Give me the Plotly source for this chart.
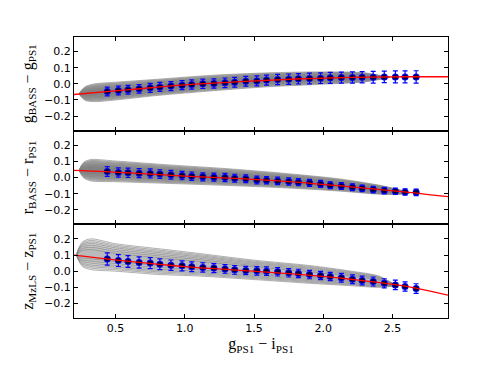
import plotly.graph_objects as go
from plotly.subplots import make_subplots

# binned colour points (same x bins in all panels)
x_bins = [0.44, 0.52, 0.59, 0.67, 0.75, 0.82, 0.90, 0.98, 1.05, 1.13,
          1.21, 1.29, 1.36, 1.44, 1.52, 1.59, 1.67, 1.75, 1.82, 1.90,
          1.98, 2.05, 2.13, 2.21, 2.28, 2.36, 2.44, 2.52, 2.59, 2.67]

g_diff = [-0.047, -0.041, -0.037, -0.031, -0.025, -0.019, -0.014, -0.008, -0.004, 0.000,
          0.002, 0.006, 0.010, 0.016, 0.018, 0.023, 0.027, 0.029, 0.031, 0.033,
          0.035, 0.037, 0.039, 0.039, 0.041, 0.041, 0.043, 0.043, 0.043, 0.043]
g_err = [0.027, 0.027, 0.027, 0.027, 0.028, 0.028, 0.028, 0.028, 0.029, 0.029,
         0.029, 0.030, 0.030, 0.030, 0.031, 0.031, 0.032, 0.032, 0.032, 0.033,
         0.033, 0.034, 0.034, 0.035, 0.035, 0.036, 0.036, 0.037, 0.037, 0.038]

r_diff = [0.037, 0.031, 0.029, 0.027, 0.025, 0.021, 0.017, 0.012, 0.008, 0.004,
          0.002, 0.000, -0.004, -0.008, -0.015, -0.017, -0.021, -0.025, -0.029, -0.033,
          -0.040, -0.048, -0.052, -0.060, -0.067, -0.075, -0.081, -0.085, -0.090, -0.092]
r_err = [0.030, 0.029, 0.029, 0.028, 0.028, 0.027, 0.027, 0.026, 0.026, 0.025,
         0.025, 0.025, 0.024, 0.024, 0.024, 0.023, 0.023, 0.023, 0.022, 0.022,
         0.022, 0.021, 0.021, 0.021, 0.020, 0.020, 0.020, 0.020, 0.020, 0.020]

z_diff = [0.075, 0.066, 0.060, 0.054, 0.050, 0.043, 0.037, 0.033, 0.027, 0.023,
          0.019, 0.014, 0.008, 0.004, 0.002, 0.000, -0.004, -0.010, -0.014, -0.021,
          -0.027, -0.033, -0.041, -0.050, -0.058, -0.064, -0.075, -0.085, -0.095, -0.108]
z_err = [0.038, 0.037, 0.036, 0.035, 0.034, 0.033, 0.032, 0.031, 0.030, 0.029,
         0.028, 0.027, 0.027, 0.026, 0.026, 0.026, 0.026, 0.026, 0.026, 0.026,
         0.026, 0.026, 0.027, 0.027, 0.027, 0.028, 0.028, 0.029, 0.029, 0.030]

# fitted relations (red curves)
fit_x = [0.2, 0.6, 1.0, 1.4, 1.8, 2.2, 2.6, 2.9]
g_fit = [-0.066, -0.036, -0.007, 0.014, 0.030, 0.040, 0.044, 0.044]
r_fit = [0.044, 0.029, 0.009, -0.007, -0.028, -0.058, -0.090, -0.119]
z_fit = [0.099, 0.060, 0.028, 0.005, -0.018, -0.050, -0.094, -0.149]

# outer density contour: knots, centre line, half width
g_cx = [0.24, 0.28, 0.35, 0.5, 0.8, 1.2, 1.6, 2.0, 2.3, 2.48]
g_cmid = [-0.062, -0.060, -0.055, -0.045, -0.022, 0.005, 0.025, 0.036, 0.040, 0.040]
g_chalf = [0.0, 0.042, 0.055, 0.055, 0.050, 0.048, 0.043, 0.038, 0.028, 0.0]

r_cx = [0.24, 0.27, 0.32, 0.5, 0.9, 1.3, 1.7, 2.1, 2.4, 2.55, 2.62]
r_cmid = [0.045, 0.046, 0.045, 0.038, 0.020, 0.003, -0.018, -0.045, -0.075, -0.090, -0.095]
r_chalf = [0.0, 0.048, 0.066, 0.064, 0.057, 0.052, 0.045, 0.038, 0.028, 0.014, 0.0]

z_cx = [0.22, 0.26, 0.32, 0.5, 0.8, 1.1, 1.5, 1.9, 2.2, 2.4, 2.53]
z_cmid = [0.100, 0.105, 0.105, 0.085, 0.060, 0.040, 0.008, -0.020, -0.045, -0.065, -0.090]
z_chalf = [0.0, 0.075, 0.095, 0.085, 0.080, 0.070, 0.060, 0.055, 0.045, 0.035, 0.0]

levels = [1.0, 0.9, 0.8, 0.7, 0.58, 0.45, 0.3]

y_titles = ["g<sub>BASS</sub> − g<sub>PS1</sub>",
            "r<sub>BASS</sub> − r<sub>PS1</sub>",
            "z<sub>MzLS</sub> − z<sub>PS1</sub>"]

panels = [
    (g_diff, g_err, g_fit, g_cx, g_cmid, g_chalf, 0.22),
    (r_diff, r_err, r_fit, r_cx, r_cmid, r_chalf, 0.22),
    (z_diff, z_err, z_fit, z_cx, z_cmid, z_chalf, 0.08),
]

fig = make_subplots(rows=3, cols=1, shared_xaxes=True, vertical_spacing=0)

for i, (yd, ye, yf, cx, cmid, chalf, alpha) in enumerate(panels):
    row = i + 1
    # nested contour loops
    for s in levels:
        upper = [m + s * h for m, h in zip(cmid, chalf)]
        lower = [m - s * h for m, h in zip(cmid, chalf)]
        fig.add_trace(go.Scatter(
            x=cx + cx[::-1], y=upper + lower[::-1],
            mode="lines", line=dict(color="rgba(130,130,130,0.75)", width=0.8,
                                    shape="spline", smoothing=0.8),
            fill="toself", fillcolor=f"rgba(105,105,105,{alpha})",
            hoverinfo="skip", showlegend=False), row=row, col=1)

    # binned points with errors
    fig.add_trace(go.Scatter(
        x=x_bins, y=yd, mode="markers",
        marker=dict(color="blue", size=7, line=dict(width=0)),
        error_y=dict(type="data", array=ye, color="blue", thickness=1.2, width=2.5),
        showlegend=False), row=row, col=1)
    fig.add_trace(go.Scatter(
        x=x_bins, y=yd, mode="markers",
        marker=dict(color="#000033", size=5),
        showlegend=False), row=row, col=1)

    # fit
    fig.add_trace(go.Scatter(
        x=fit_x, y=yf, mode="lines",
        line=dict(color="red", width=1.3, shape="spline"),
        showlegend=False), row=row, col=1)

    fig.update_yaxes(
        range=[-0.29, 0.29], tickvals=[-0.2, -0.1, 0.0, 0.1, 0.2], tickformat=".1f",
        title=dict(text=y_titles[i], font=dict(family="Liberation Serif", size=16, color="black"),
                   standoff=6),
        row=row, col=1)

fig.update_xaxes(range=[0.2, 2.9], tickvals=[0.5, 1.0, 1.5, 2.0, 2.5], tickformat=".1f")
fig.update_xaxes(title=dict(text="g<sub>PS1</sub> − i<sub>PS1</sub>",
                            font=dict(family="Liberation Serif", size=16, color="black"),
                            standoff=3),
                 row=3, col=1)

fig.update_xaxes(showline=True, linecolor="black", linewidth=1, mirror="ticks",
                 ticks="inside", ticklen=4, tickcolor="black", showgrid=False, zeroline=False)
fig.update_yaxes(showline=True, linecolor="black", linewidth=1, mirror="ticks",
                 ticks="inside", ticklen=4, tickcolor="black", showgrid=False, zeroline=False)

# page body keeps an 8px default margin, so the figure is drawn 8px smaller
fig.update_layout(
    width=490, height=366,
    margin=dict(l=66, r=50, t=29, b=56),
    plot_bgcolor="white", paper_bgcolor="white",
    font=dict(family="DejaVu Sans", size=11, color="black"),
    showlegend=False,
)

fig.write_html("out.html")
